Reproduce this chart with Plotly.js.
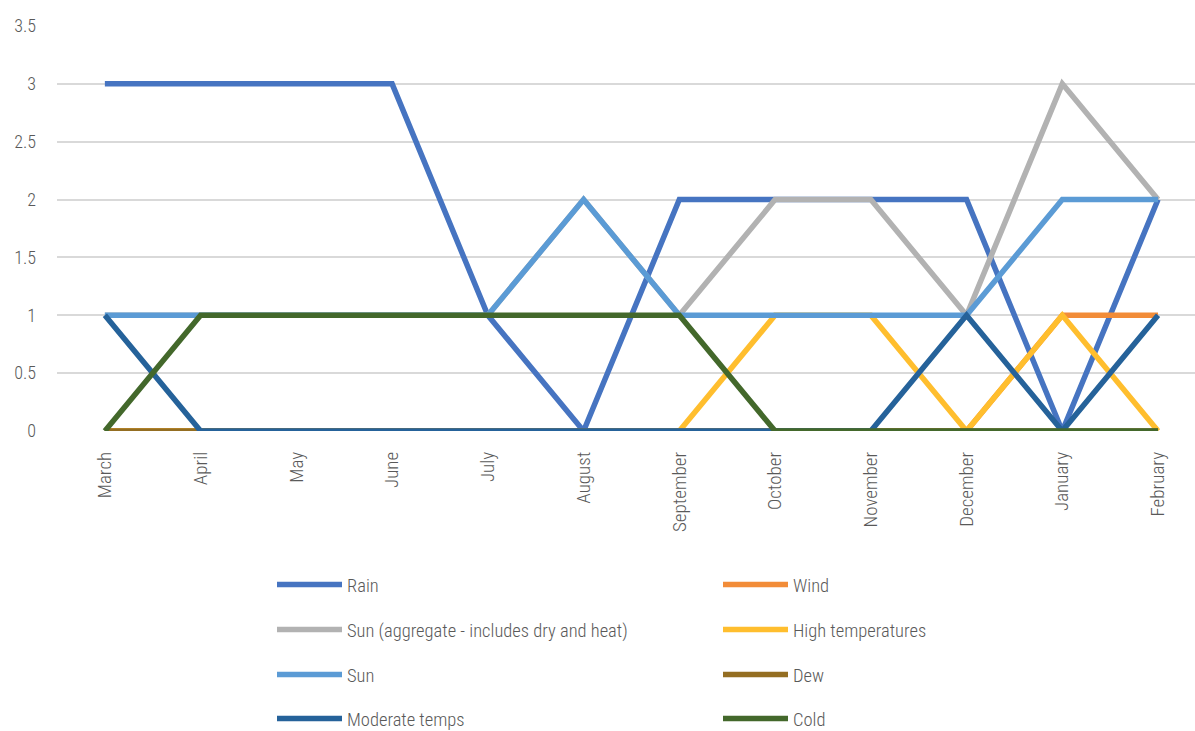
<!DOCTYPE html>
<html>
<head>
<meta charset="utf-8">
<script src="https://cdn.plot.ly/plotly-3.0.1.min.js"></script>
<style>html,body{margin:0;padding:0;background:#fff;}#chart{width:1195px;height:731px;}</style>
</head>
<body>
<div id="chart"></div>
<script>
var months = ["March","April","May","June","July","August","September","October","November","December","January","February"];
var rain = [3,3,3,3,1,0,2,2,2,2,0,2];
var wind = [0,0,0,0,0,0,0,0,0,0,1,1];
var sunAggregate = [1,1,1,1,1,2,1,2,2,1,3,2];
var highTemps = [0,0,0,0,0,0,0,1,1,0,1,0];
var sun = [1,1,1,1,1,2,1,1,1,1,2,2];
var dew = [0,0,0,0,0,0,0,0,0,0,0,0];
var moderateTemps = [1,0,0,0,0,0,0,0,0,1,0,1];
var cold = [0,1,1,1,1,1,1,0,0,0,0,0];

var seriesNames = ["Rain","Wind","Sun (aggregate - includes dry and heat)","High temperatures","Sun","Dew","Moderate temps","Cold"];
var seriesData = [rain, wind, sunAggregate, highTemps, sun, dew, moderateTemps, cold];
var colors = ["#4674C1","#F28C38","#B2B2B2","#FFBE2E","#5B9BD5","#946E22","#25629A","#43682B"];
var legendIds = ["legend","legend","legend2","legend2","legend3","legend3","legend4","legend4"];

var font = "'Roboto Condensed','Open Sans Condensed','DejaVu Sans Condensed','Open Sans',sans-serif";
var traces = seriesData.map(function(d,i){
  return {
    x: months, y: d, name: seriesNames[i], type: 'scatter', mode: 'lines',
    line: {color: colors[i], width: 5.5},
    legend: legendIds[i]
  };
});

function leg(y){
  return {
    orientation: 'h', xref: 'container', yref: 'container', x: 272/1195, y: y,
    xanchor: 'left', yanchor: 'middle', entrywidth: 366, entrywidthmode: 'pixels',
    itemwidth: 65,
    font: {family: font, size: 18.5, weight: 300, color: '#595959'}, bgcolor: 'rgba(0,0,0,0)',
    traceorder: 'normal'
  };
}

var layout = {
  width: 1195, height: 731,
  margin: {l: 57, r: 0, t: 26, b: 300},
  paper_bgcolor: '#fff', plot_bgcolor: '#fff',
  font: {family: font, color: '#595959', size: 16, weight: 300},
  xaxis: {
    type: 'category', range: [-0.5, 11.386], tickangle: -90,
    showgrid: false, zeroline: false, showline: false, ticks: '',
    tickfont: {family: font, size: 19, weight: 300, color: '#595959'}, ticklabelstandoff: 16
  },
  yaxis: {
    range: [0, 3.5], dtick: 0.5, tick0: 0, showgrid: true, gridcolor: '#D9D9D9', gridwidth: 2,
    zeroline: false, showline: false, ticks: '',
    tickfont: {family: font, size: 18, weight: 300, color: '#595959'}, ticklabelstandoff: 20
  },
  showlegend: true,
  legend: leg(1 - 585/731),
  legend2: leg(1 - 630/731),
  legend3: leg(1 - 675/731),
  legend4: leg(1 - 719/731)
};

Plotly.newPlot('chart', traces, layout, {displayModeBar: false, responsive: false});
</script>
</body>
</html>
